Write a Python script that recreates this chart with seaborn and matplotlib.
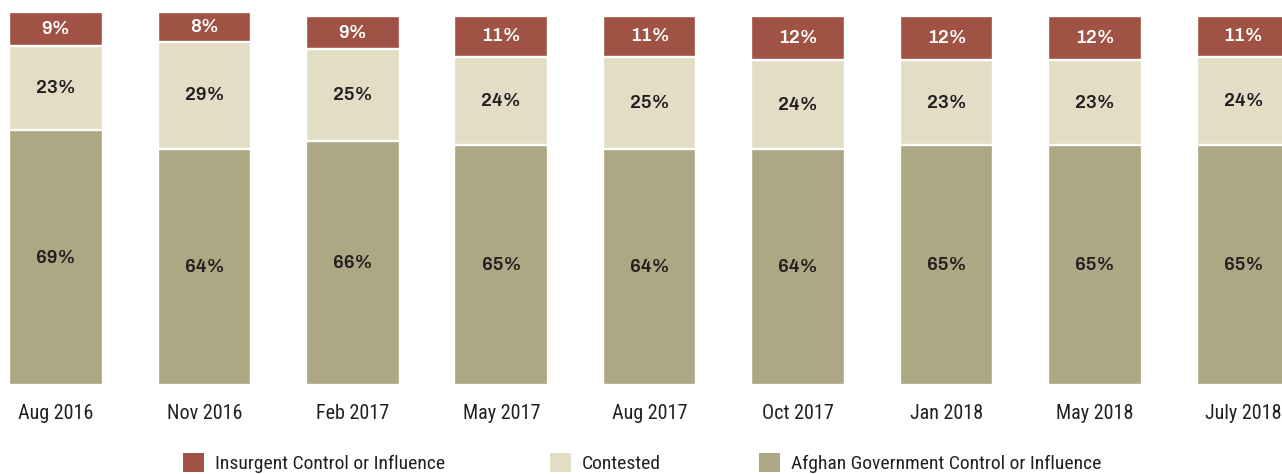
import matplotlib
matplotlib.use("Agg")
import matplotlib.pyplot as plt
from matplotlib.patches import Patch
import numpy as np
import pandas as pd
import seaborn as sns

# 아프간 지역 통제 현황 (%)
dates = ["Aug 2016", "Nov 2016", "Feb 2017", "May 2017", "Aug 2017",
         "Oct 2017", "Jan 2018", "May 2018", "July 2018"]
government = [69, 64, 66, 65, 64, 64, 65, 65, 65]
contested = [23, 29, 25, 24, 25, 24, 23, 23, 24]
insurgent = [9, 8, 9, 11, 11, 12, 12, 12, 11]

RED = "#A05244"
BEIGE = "#E3DDC5"
GREEN = "#ADA783"
INK = "#231F20"

sns.set_style("white")
plt.rcParams["font.family"] = ["Roboto Condensed", "Archivo Narrow", "DejaVu Sans"]

df = pd.DataFrame({"date": dates, "gov": government,
                   "con": contested, "ins": insurgent})
df["mid"] = df["gov"] + df["con"]
df["top"] = df["mid"] + df["ins"]

fig = plt.figure(figsize=(12.82, 4.74), dpi=100)
ax = fig.add_axes([0, 89 / 474, 1, 385 / 474])

# 위에서부터 겹쳐 그리기
sns.barplot(data=df, x="date", y="top", color=RED, width=0.63,
            edgecolor="white", linewidth=1.7, saturation=1, ax=ax)
sns.barplot(data=df, x="date", y="mid", color=BEIGE, width=0.63,
            edgecolor="white", linewidth=1.7, saturation=1, ax=ax)
sns.barplot(data=df, x="date", y="gov", color=GREEN, width=0.63,
            edgecolor="white", linewidth=1.7, saturation=1, ax=ax)

lab_font = dict(family=["Archivo", "Liberation Sans", "DejaVu Sans"], fontsize=13.5,
                fontweight=600, ha="center", va="center")
for i, r in df.iterrows():
    ax.text(i, r["gov"] / 2, f"{r['gov']}%", color=INK, **lab_font)
    ax.text(i, r["gov"] + r["con"] / 2, f"{r['con']}%", color=INK, **lab_font)
    ax.text(i, r["mid"] + r["ins"] / 2, f"{r['ins']}%", color="white", **lab_font)

ax.set_xlim(-0.377, 8.26)
ax.set_ylim(0, 385 / 3.69)
ax.set_xlabel("")
ax.set_ylabel("")
ax.set_yticks([])
ax.tick_params(axis="x", length=0, pad=14, labelsize=14.5, labelcolor=INK)
sns.despine(ax=ax, left=True, bottom=True)

legend_items = [("Insurgent Control or Influence", RED, 183),
                ("Contested", BEIGE, 550),
                ("Afghan Government Control or Influence", GREEN, 759)]
for name, col, xp in legend_items:
    fig.legend(handles=[Patch(facecolor=col, edgecolor="none", label=name)],
               loc="center left", bbox_to_anchor=(xp / 1282, 11 / 474),
               frameon=False, fontsize=14, handlelength=1.1, handleheight=1.1,
               handletextpad=0.55, borderpad=0, borderaxespad=0,
               labelcolor=INK)

fig.savefig("out.png", dpi=100)
